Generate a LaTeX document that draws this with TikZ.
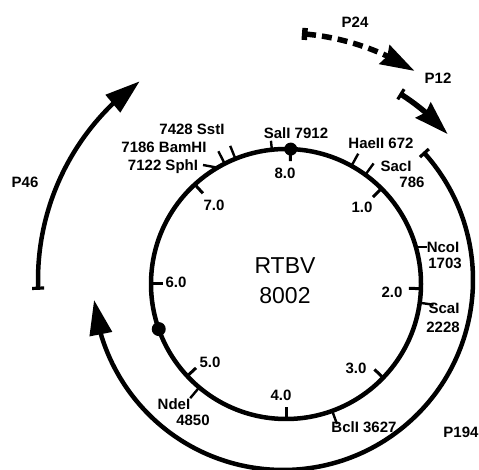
\documentclass[tikz,border=0pt]{standalone}
\usepackage{fontspec}
\setmainfont{Liberation Sans}
\usetikzlibrary{arrows.meta,bending,calc}
\tikzset{
  starttip/.tip={Bar[width=12pt,line width=3.2pt]},
  headtip/.tip={Triangle[length=35pt,width=22pt]},
  stealthtip/.tip={Stealth[length=34pt,width=21pt,inset=3pt]},
}
\begin{document}
\begin{tikzpicture}[x=1pt,y=1pt,
  lab/.style={font=\fontsize{15}{15}\selectfont\bfseries, inner sep=0pt},
  big/.style={font=\fontsize{23}{23}\selectfont, inner sep=0pt},
  ring/.style={line width=4.5pt},
  site/.style={line width=2.4pt},
  kbtick/.style={line width=3pt},
  trans/.style={line width=4.5pt},
]
\useasboundingbox (0,0) rectangle (479,470);
\coordinate (C) at (286,186);
\coordinate (O) at (283,190);

% genome ring
\draw[ring] (C) circle[radius=135];

% kb scale ticks (inward)
\foreach \a in {88,45,-2,-44,-90,-137,180,132.5}
  \draw[kbtick] ($(C)+(\a:136)$) -- ($(C)+(\a:123)$);

% restriction site ticks (outward)
\foreach \a in {61,54,-8,-70,-130,117,112}
  \draw[site] ($(C)+(\a:134)$) -- ($(C)+(\a:149)$);
\draw[site] ($(C)+(96:134)$) -- ($(C)+(96:144)$);
\coordinate (nco) at ($(C)+(16:134)$);
\draw[site] (nco) -- ++(12,0);
\coordinate (sph) at ($(C)+(120:134)$);
\coordinate (sphend) at (203,305);
\draw[site] (sph) -- (sphend);

% dots
\fill ($(C)+(88:135)$) circle[radius=6.5];
\fill ($(C)+(199.5:135)$) circle[radius=7];

% transcripts
\draw[trans, {starttip}-{headtip}] ($(O)+(42.4:190)$) arc[start angle=42.4, end angle=-174, radius=190];
\draw[trans, {starttip}-{headtip}] ($(O)+(182.3:245)$) arc[start angle=182.3, end angle=125.8, radius=245];
\draw[line width=5.5pt, dash pattern=on 10pt off 6pt, {Bar[width=12pt,line width=5.5pt]}-{stealthtip}] ($(O)+(85.6:247)$) arc[start angle=85.6, end angle=57.8, radius=247];
\draw[line width=5.5pt, {starttip}-{stealthtip}] ($(O)+(58:220)$) arc[start angle=58, end angle=41.5, radius=220];

% labels
\node[big] (name) at (285,204) {RTBV};
\node[big] (size) at (285,174) {8002};

\node[lab] (k8) at (285,297) {8.0};
\node[lab] (k1) at (362,263) {1.0};
\node[lab] (k2) at (392,178) {2.0};
\node[lab] (k3) at (356,102) {3.0};
\node[lab] (k4) at (281,75) {4.0};
\node[lab] (k5) at (210,108) {5.0};
\node[lab] (k6) at (176,188) {6.0};
\node[lab] (k7) at (214,265) {7.0};

\node[lab] (sal) at (296,337) {SalI 7912};
\node[lab] (hae) at (381,327) {HaeII 672};
\node[lab] (sac) at (396,304) {SacI};
\node[lab] (sacn) at (412,288) {786};
\node[lab] (ncol) at (443,223) {NcoI};
\node[lab] (ncon) at (445,207) {1703};
\node[lab] (sca) at (444,162) {ScaI};
\node[lab] (scan) at (443,143) {2228};
\node[lab] (bcl) at (364,43) {BclI 3627};
\node[lab] (nde) at (174,66) {NdeI};
\node[lab] (nden) at (193,50) {4850};
\node[lab] (sphl) at (163,303) {7122 SphI};
\node[lab] (bam) at (164,323) {7186 BamHI};
\node[lab] (sst) at (192,341) {7428 SstI};

\node[lab] (p24) at (355,448) {P24};
\node[lab] (p12) at (438,392) {P12};
\node[lab] (p46) at (25,288) {P46};
\node[lab] (p194) at (461,38) {P194};
\end{tikzpicture}
\end{document}
